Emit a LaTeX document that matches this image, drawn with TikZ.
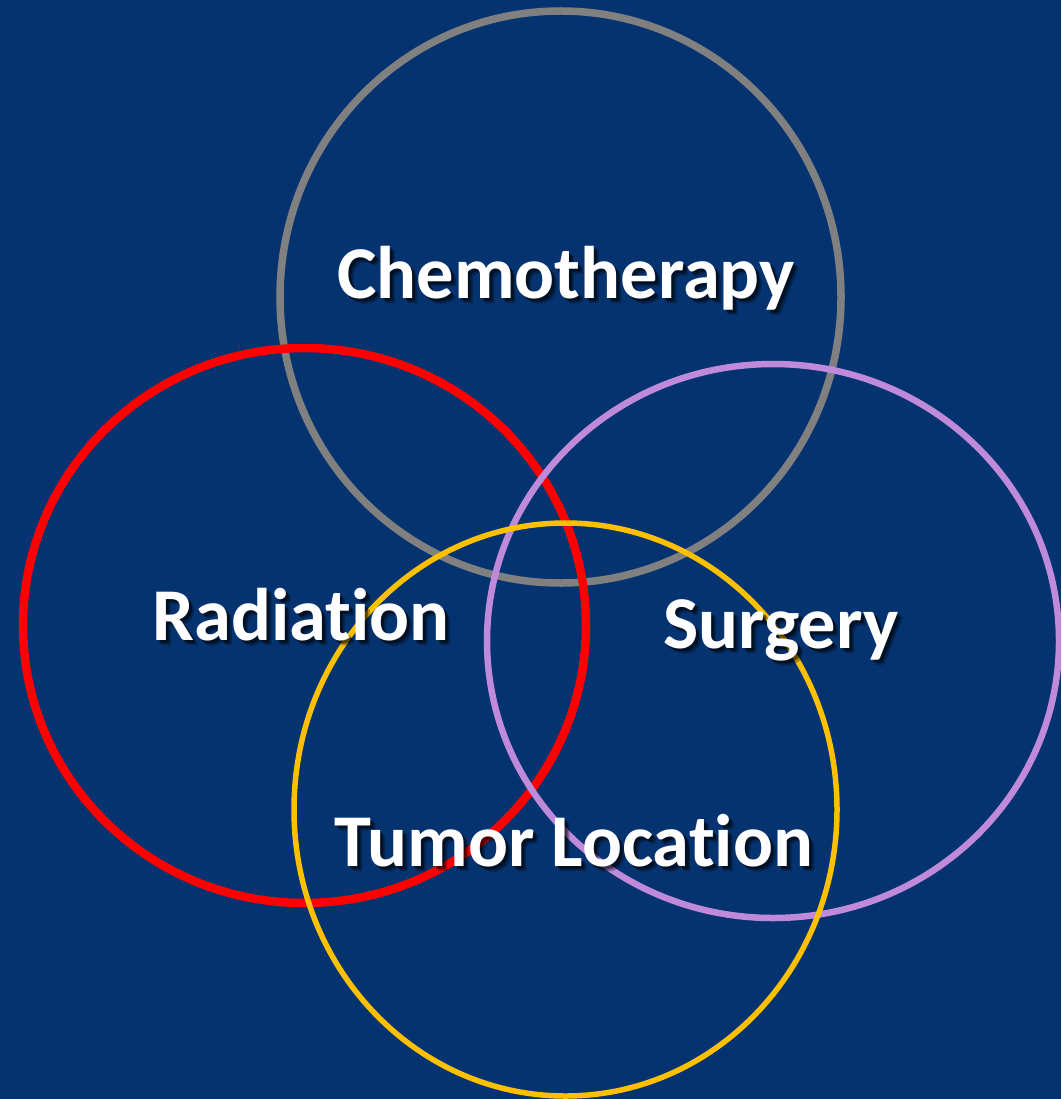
\documentclass[tikz,border=0pt]{standalone}
\usepackage{fontspec}
\setmainfont{Carlito}[Ligatures=NoCommon]
\definecolor{bgblue}{HTML}{043370}
\definecolor{cgray}{HTML}{808080}
\definecolor{cred}{HTML}{FF0000}
\definecolor{cpurple}{HTML}{C08ADA}
\definecolor{cyellow}{HTML}{FFC000}
\begin{document}
\begin{tikzpicture}[x=1pt,y=-1pt,
  lbl/.style={anchor=base, text=white, font=\fontsize{74.5}{80}\selectfont\bfseries, inner sep=0pt},
  shd/.style={anchor=base, text=black, font=\fontsize{74.5}{80}\selectfont\bfseries, inner sep=0pt, text opacity=#1}]
\fill[bgblue] (0,0) rectangle (1061,1099);
\useasboundingbox (0,0) rectangle (1061,1099);
\begin{scope}
\clip (0,0) rectangle (1061,1099);
\draw[cgray, line width=7.5pt] (560.5,297) ellipse [x radius=280.5, y radius=286];
\draw[cred, line width=8.5pt] (304.5,625.5) ellipse [x radius=281.5, y radius=277.5];
\draw[cpurple, line width=6.5pt] (773,641) ellipse [x radius=286, y radius=277];
\draw[cyellow, line width=5.5pt] (565.5,809.5) ellipse [x radius=271.5, y radius=286.5];
\end{scope}
% shadows
\foreach \dx/\dy/\op in {5/5/0.3,3/3/0.5} {
  \node[shd=\op] (s1\dx) at (566+\dx,298+\dy) {Chemotherapy};
  \node[shd=\op] (s2\dx) at (301+\dx,640+\dy) {Radiation};
  \node[shd=\op] (s3\dx) at (781+\dx,648+\dy) {Surgery};
  \node[shd=\op] (s4\dx) at (574+\dx,866+\dy) {Tumor Location};
}
\node[lbl] (chemo) at (566,298) {Chemotherapy};
\node[lbl] (rad) at (301,640) {Radiation};
\node[lbl] (surg) at (781,648) {Surgery};
\node[lbl] (tumor) at (574,866) {Tumor Location};
\end{tikzpicture}
\end{document}
